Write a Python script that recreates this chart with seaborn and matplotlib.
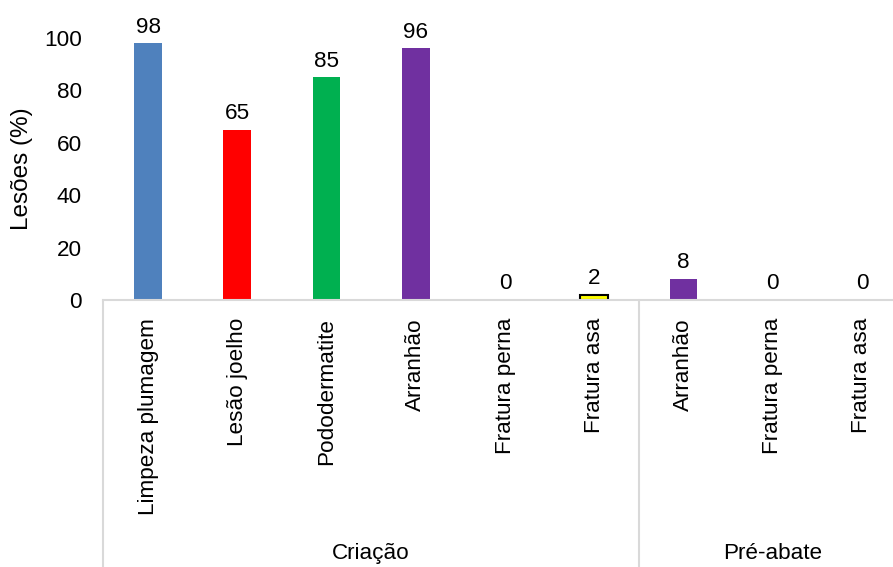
import matplotlib
matplotlib.use("Agg")
import matplotlib.pyplot as plt
import matplotlib.transforms as mtransforms
import seaborn as sns
import pandas as pd

categories = ["Limpeza plumagem", "Lesão joelho", "Pododermatite", "Arranhão",
              "Fratura perna", "Fratura asa", "Arranhão", "Fratura perna", "Fratura asa"]
values = [98, 65, 85, 96, 0, 2, 8, 0, 0]
groups = ["Criação"] * 6 + ["Pré-abate"] * 3
group_names = ["Criação", "Pré-abate"]
colors = ["#4F81BD", "#FF0000", "#00B050", "#7030A0", "#FFFFFF", "#FFFF00",
          "#7030A0", "#FFFFFF", "#FFFFFF"]
yticks = [0, 20, 40, 60, 80, 100]

sns.set_theme(style="white")
plt.rcParams["font.family"] = ["Liberation Sans", "DejaVu Sans"]
FS = 16.2

df = pd.DataFrame({"key": [f"c{i}" for i in range(len(categories))],
                   "value": values})

W, H = 893, 567
fig = plt.figure(figsize=(W / 100, H / 100), dpi=100)
left_px, right_px, top_px, base_px = 103.4, 906.6, 38, 300
ax = fig.add_axes([left_px / W, (H - base_px) / H, (right_px - left_px) / W,
                   (base_px - top_px) / H])

sns.barplot(data=df, x="key", y="value", hue="key", palette=colors,
            legend=False, width=0.31, ax=ax, saturation=1)

for i, p in enumerate(ax.patches):
    if categories[i] == "Fratura asa" and values[i] > 0:
        p.set_edgecolor("black")
        p.set_linewidth(1.5)
    else:
        p.set_edgecolor("none")

for c in ax.containers:
    ax.bar_label(c, fmt="%g", padding=4, fontsize=FS, color="#000000")

ax.set_ylim(0, 100)
ax.set_xlim(-0.5, len(categories) - 0.5)
ax.set_yticks(yticks)
ax.set_yticklabels([str(t) for t in yticks], fontsize=FS, color="#000000")
ax.set_xticks(range(len(categories)))
ax.set_xticklabels(categories, rotation=90, fontsize=FS, color="#000000",
                   va="top", ha="center")
ax.tick_params(axis="both", length=0)
ax.tick_params(axis="x", pad=13)
ax.tick_params(axis="y", pad=15.5)
ax.set_xlabel("")
ax.set_ylabel("Lesões (%)", fontsize=17.5, color="#000000", labelpad=8)

for s in ["left", "right", "top"]:
    ax.spines[s].set_visible(False)
ax.spines["bottom"].set_color("#D9D9D9")
ax.spines["bottom"].set_linewidth(1.5)

trans = mtransforms.blended_transform_factory(ax.transData, ax.transAxes)
depth = -(H - base_px) / (base_px - top_px)
for xb in [-0.5, 5.5]:
    ax.plot([xb, xb], [0, depth], transform=trans, color="#D9D9D9",
            lw=1.5, clip_on=False)

gy = (base_px - 554) / (base_px - top_px)
start = 0
for g in group_names:
    n = groups.count(g)
    center = start + (n - 1) / 2
    ax.text(center, gy, g, transform=trans, ha="center", va="center",
            fontsize=FS, color="#000000")
    start += n

fig.savefig("out.png", dpi=100)
